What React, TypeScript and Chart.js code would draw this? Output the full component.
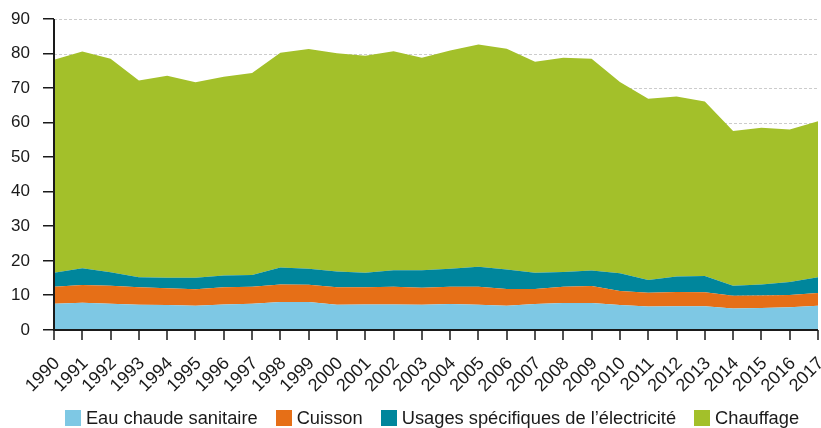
import React, { useEffect, useRef } from "react";
import { Chart, registerables } from "chart.js";

Chart.register(...registerables);

const years = [
  "1990", "1991", "1992", "1993", "1994", "1995", "1996", "1997", "1998", "1999",
  "2000", "2001", "2002", "2003", "2004", "2005", "2006", "2007", "2008", "2009",
  "2010", "2011", "2012", "2013", "2014", "2015", "2016", "2017",
];

const eauChaude = [
  7.6, 7.9, 7.6, 7.3, 7.2, 7.0, 7.4, 7.6, 8.1, 8.1,
  7.3, 7.4, 7.4, 7.3, 7.5, 7.3, 7.0, 7.5, 7.8, 7.8,
  7.2, 6.8, 6.9, 6.9, 6.2, 6.4, 6.6, 7.0,
];

const cuisson = [
  4.9, 5.1, 5.2, 5.1, 4.9, 4.8, 5.0, 4.9, 5.1, 5.0,
  5.1, 5.0, 5.1, 4.9, 5.0, 5.2, 4.9, 4.4, 4.7, 4.9,
  4.1, 4.0, 4.1, 4.0, 3.7, 3.6, 3.5, 3.7,
];

const usagesElec = [
  4.1, 4.9, 3.9, 2.9, 3.0, 3.3, 3.4, 3.4, 4.9, 4.6,
  4.5, 4.2, 4.8, 5.1, 5.2, 5.8, 5.6, 4.7, 4.3, 4.5,
  5.1, 3.7, 4.5, 4.7, 2.9, 3.2, 3.8, 4.6,
];

const chauffage = [
  61.6, 62.7, 61.8, 56.9, 58.5, 56.6, 57.5, 58.5, 62.1, 63.6,
  63.2, 62.8, 63.4, 61.5, 63.2, 64.3, 63.9, 61.0, 62.0, 61.3,
  55.4, 52.4, 52.1, 50.5, 44.8, 45.3, 44.1, 45.1,
];

const seriesNames = [
  "Eau chaude sanitaire",
  "Cuisson",
  "Usages spécifiques de l’électricité",
  "Chauffage",
];
const seriesColors = ["#7ec8e4", "#e66f17", "#00869c", "#a3c02a"];

const FONT = "'Liberation Sans', Arial, Helvetica, sans-serif";
const TEXT = "#1a1a1a";
const AXIS = "#1a1a1a";

const axesPlugin = {
  id: "customAxes",
  beforeDatasetsDraw(chart: any) {
    const { ctx, chartArea, scales } = chart;
    const y = scales.y;
    ctx.save();
    ctx.strokeStyle = "#cccccc";
    ctx.lineWidth = 1;
    ctx.setLineDash([3, 2]);
    y.ticks.forEach((t: any) => {
      if (t.value === 0) return;
      const py = Math.round(y.getPixelForValue(t.value)) + 0.5;
      ctx.beginPath();
      ctx.moveTo(chartArea.left, py);
      ctx.lineTo(chartArea.right, py);
      ctx.stroke();
    });
    ctx.restore();
  },
  afterDraw(chart: any) {
    const { ctx, chartArea, scales } = chart;
    const x = scales.x;
    const y = scales.y;
    ctx.save();
    ctx.fillStyle = AXIS;
    const left = Math.round(chartArea.left);
    const bottom = Math.round(chartArea.bottom);
    const top = Math.round(y.getPixelForValue(90));
    ctx.fillRect(left - 1, top, 2, bottom - top);
    y.ticks.forEach((t: any) => {
      const py = Math.round(y.getPixelForValue(t.value));
      ctx.fillRect(left - 11, py - 1, 11, 1.5);
    });
    ctx.fillRect(left - 1, bottom - 1, Math.round(chartArea.right) - left + 1, 2);
    years.forEach((_, i) => {
      const px = Math.round(x.getPixelForValue(i));
      ctx.fillRect(px - 0.75, bottom, 1.5, 10);
    });
    ctx.restore();
  },
};

export default function App() {
  const canvasRef = useRef<HTMLCanvasElement | null>(null);

  useEffect(() => {
    const canvas = canvasRef.current;
    if (!canvas) return;
    const values = [eauChaude, cuisson, usagesElec, chauffage];
    const chart = new Chart(canvas, {
      type: "line",
      data: {
        labels: years,
        datasets: values.map((v, i) => ({
          label: seriesNames[i],
          data: v,
          backgroundColor: seriesColors[i],
          borderColor: seriesColors[i],
          borderWidth: 0,
          pointRadius: 0,
          tension: 0,
          fill: i === 0 ? "origin" : "-1",
        })),
      },
      plugins: [axesPlugin],
      options: {
        responsive: false,
        animation: false,
        events: [],
        layout: { padding: { top: 19, right: 3, left: 0, bottom: 0 } },
        plugins: {
          legend: { display: false },
          tooltip: { enabled: false },
        },
        scales: {
          x: {
            type: "category",
            offset: false,
            grid: {
              display: true,
              drawOnChartArea: false,
              drawTicks: true,
              tickLength: 10,
              color: "rgba(0,0,0,0)",
              tickColor: "rgba(0,0,0,0)",
            },
            border: { display: false },
            ticks: {
              autoSkip: false,
              maxRotation: 45,
              minRotation: 45,
              padding: 13,
              labelOffset: 3,
              color: TEXT,
              font: { family: FONT, size: 18 },
            },
            afterFit: (scale: any) => {
              scale.height = 98;
              scale.paddingLeft = 0;
              scale.paddingRight = 0;
            },
          },
          y: {
            stacked: true,
            min: 0,
            max: 90,
            grid: {
              display: true,
              drawOnChartArea: false,
              drawTicks: true,
              tickLength: 10,
              color: "rgba(0,0,0,0)",
              tickColor: "rgba(0,0,0,0)",
            },
            border: { display: false },
            ticks: {
              stepSize: 10,
              padding: 14,
              color: TEXT,
              font: { family: FONT, size: 17 },
            },
            afterFit: (scale: any) => {
              scale.width = 54;
              scale.paddingTop = 0;
              scale.paddingBottom = 0;
            },
          },
        },
      },
    });
    return () => chart.destroy();
  }, []);

  return (
    <div style={{ position: "absolute", left: 0, top: 0, width: 821, height: 428, background: "#fff" }}>
      <canvas ref={canvasRef} width={821} height={428} style={{ position: "absolute", left: 0, top: 0 }} />
      <div
        style={{
          position: "absolute",
          left: 50,
          width: 764,
          top: 407,
          height: 22,
          display: "flex",
          justifyContent: "center",
          alignItems: "center",
          fontFamily: FONT,
          fontSize: 18.3,
          color: TEXT,
          whiteSpace: "nowrap",
        }}
      >
        {seriesNames.map((name, i) => (
          <div key={name} style={{ display: "flex", alignItems: "center", marginLeft: i === 0 ? 0 : 18 }}>
            <span style={{ display: "inline-block", width: 16, height: 16, background: seriesColors[i], marginRight: 5 }} />
            <span>{name}</span>
          </div>
        ))}
      </div>
    </div>
  );
}
